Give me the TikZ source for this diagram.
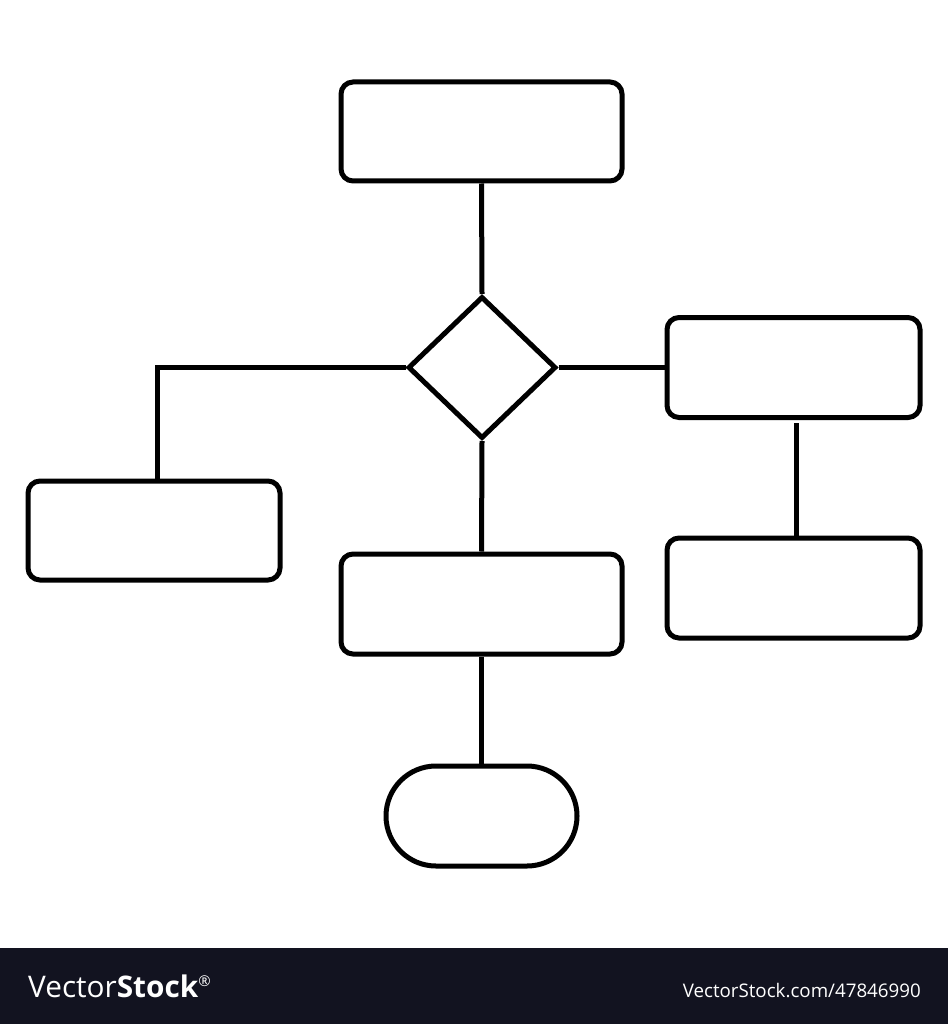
\documentclass[tikz,border=0pt]{standalone}
\usepackage{fontspec}
\setmainfont{Open Sans}
\usetikzlibrary{shapes.geometric,calc}
\definecolor{barcol}{RGB}{18,19,32}
\tikzset{
  box/.style={draw=black, line width=5pt, rectangle, rounded corners=12pt, inner sep=0pt, fill=white},
  termbox/.style={draw=black, line width=5pt, rectangle, rounded corners=50pt, inner sep=0pt, fill=white},
  dec/.style={draw=black, line width=5pt, diamond, inner sep=0pt, fill=white},
  conn/.style={draw=black, line width=5pt},
}
\begin{document}
\begin{tikzpicture}[x=1pt,y=-1pt]
\fill[white] (0,0) rectangle (948,1024);
\useasboundingbox (0,0) rectangle (948,1024);
\node[box, minimum width=281pt, minimum height=99pt] (top) at (481.5,131.5) {};
\node[dec, minimum width=148pt, minimum height=142pt] (dia) at (482,367.5) {};
\node[box, minimum width=253pt, minimum height=100pt] (r1) at (793.5,367.5) {};
\node[box, minimum width=253pt, minimum height=100pt] (r2) at (793.5,588) {};
\node[box, minimum width=252pt, minimum height=99pt] (lf) at (154,530.5) {};
\node[box, minimum width=281pt, minimum height=100pt] (mid) at (481.5,604) {};
\node[termbox, minimum width=191pt, minimum height=100pt] (term) at (481.5,816) {};
\draw[conn] (top.south) -- (dia.north);
\draw[conn] (dia.west) -| ($(lf.north)+(3,0)$);
\draw[conn] (dia.east) -- (dia.east -| r1.west);
\draw[conn, shorten <=3pt] ($(r1.south)+(2.5,0)$) -- ($(r2.north)+(2.5,0)$);
\draw[conn] (dia.south) -- (mid.north);
\draw[conn] (mid.south) -- (term.north);
% footer
\fill[barcol] (0,948) rectangle (948,1024);
\node[anchor=west, inner sep=0pt, text=white] (logo) at (28,986)
  {\resizebox{184pt}{!}{Vector\textbf{Stock}\textsuperscript{\tiny\textregistered}}};
\node[anchor=east, inner sep=0pt, text=white] (url) at (921,991)
  {\resizebox{238pt}{!}{VectorStock.com/47846990}};
\end{tikzpicture}
\end{document}
